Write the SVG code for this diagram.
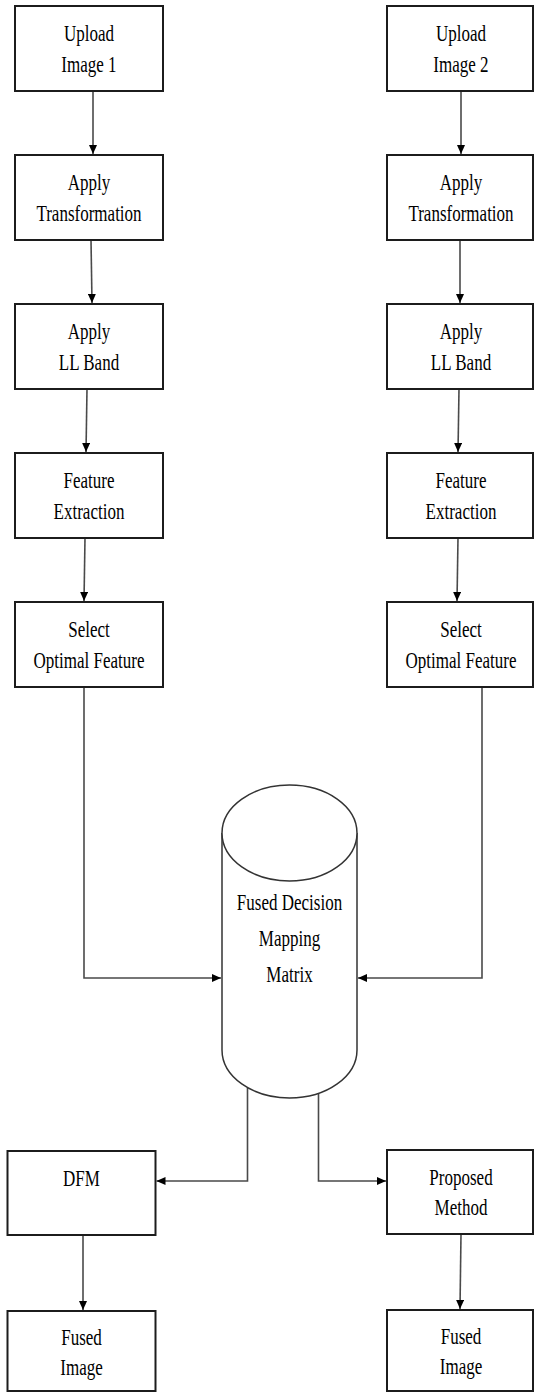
<svg xmlns="http://www.w3.org/2000/svg" width="534" height="1393" viewBox="0 0 534 1393">
  <style>
    .box { fill: #ffffff; stroke: #1c1c1c; stroke-width: 2; }
    .cyl { fill: #ffffff; stroke: #333333; stroke-width: 1.5; }
    .conn { fill: none; stroke: #4a4a4a; stroke-width: 1.6; }
    .t { font-family: "Liberation Serif", "DejaVu Serif", serif; font-size: 23px; fill: #000000; text-anchor: middle; }
  </style>
  <defs>
    <marker id="arrow" markerUnits="userSpaceOnUse" markerWidth="9" markerHeight="8" refX="9" refY="4" orient="auto">
      <path d="M0,0 L9,4 L0,8 Z" fill="#000000"/>
    </marker>
  </defs>
  <rect width="534" height="1393" fill="#ffffff"/>

  <!-- connectors -->
  <g id="connectors">
    <!-- left column -->
    <path class="conn" d="M93,91 L93,154" marker-end="url(#arrow)"/>
    <path class="conn" d="M91,240 L92,303" marker-end="url(#arrow)"/>
    <path class="conn" d="M87,389 L86,452" marker-end="url(#arrow)"/>
    <path class="conn" d="M85,538 L84,601" marker-end="url(#arrow)"/>
    <path class="conn" d="M84,687 L84,978 L221,978" marker-end="url(#arrow)"/>
    <!-- right column -->
    <path class="conn" d="M461,91 L461,154" marker-end="url(#arrow)"/>
    <path class="conn" d="M460,240 L460,303" marker-end="url(#arrow)"/>
    <path class="conn" d="M459,389 L458,452" marker-end="url(#arrow)"/>
    <path class="conn" d="M458,538 L457,601" marker-end="url(#arrow)"/>
    <path class="conn" d="M482,687 L482,978 L358,978" marker-end="url(#arrow)"/>
    <!-- outputs of the matrix -->
    <path class="conn" d="M247.5,1088 L247.5,1181 L156.5,1181" marker-end="url(#arrow)"/>
    <path class="conn" d="M318.5,1093 L318.5,1181 L386,1181" marker-end="url(#arrow)"/>
    <path class="conn" d="M83,1235 L83,1310" marker-end="url(#arrow)"/>
    <path class="conn" d="M461,1234 L460,1309" marker-end="url(#arrow)"/>
  </g>

  <!-- left branch -->
  <g id="upload1">
    <rect class="box" x="15" y="6" width="148" height="85"/>
    <text class="t" transform="translate(89,41) scale(0.74,1)">Upload</text>
    <text class="t" transform="translate(89,71.5) scale(0.74,1)">Image 1</text>
  </g>
  <g id="transform1">
    <rect class="box" x="15" y="155" width="148" height="85"/>
    <text class="t" transform="translate(89,190) scale(0.74,1)">Apply</text>
    <text class="t" transform="translate(89,220.5) scale(0.74,1)">Transformation</text>
  </g>
  <g id="llband1">
    <rect class="box" x="15" y="304" width="148" height="85"/>
    <text class="t" transform="translate(89,339) scale(0.74,1)">Apply</text>
    <text class="t" transform="translate(89,369.5) scale(0.74,1)">LL Band</text>
  </g>
  <g id="feature1">
    <rect class="box" x="15" y="453" width="148" height="85"/>
    <text class="t" transform="translate(89,488) scale(0.74,1)">Feature</text>
    <text class="t" transform="translate(89,518.5) scale(0.74,1)">Extraction</text>
  </g>
  <g id="select1">
    <rect class="box" x="15" y="602" width="148" height="85"/>
    <text class="t" transform="translate(89,637) scale(0.74,1)">Select</text>
    <text class="t" transform="translate(89,667.5) scale(0.74,1)">Optimal Feature</text>
  </g>

  <!-- right branch -->
  <g id="upload2">
    <rect class="box" x="387" y="6" width="146" height="85"/>
    <text class="t" transform="translate(461,41) scale(0.74,1)">Upload</text>
    <text class="t" transform="translate(461,71.5) scale(0.74,1)">Image 2</text>
  </g>
  <g id="transform2">
    <rect class="box" x="387" y="155" width="146" height="85"/>
    <text class="t" transform="translate(461,190) scale(0.74,1)">Apply</text>
    <text class="t" transform="translate(461,220.5) scale(0.74,1)">Transformation</text>
  </g>
  <g id="llband2">
    <rect class="box" x="387" y="304" width="146" height="85"/>
    <text class="t" transform="translate(461,339) scale(0.74,1)">Apply</text>
    <text class="t" transform="translate(461,369.5) scale(0.74,1)">LL Band</text>
  </g>
  <g id="feature2">
    <rect class="box" x="387" y="453" width="146" height="85"/>
    <text class="t" transform="translate(461,488) scale(0.74,1)">Feature</text>
    <text class="t" transform="translate(461,518.5) scale(0.74,1)">Extraction</text>
  </g>
  <g id="select2">
    <rect class="box" x="387" y="602" width="146" height="85"/>
    <text class="t" transform="translate(461,637) scale(0.74,1)">Select</text>
    <text class="t" transform="translate(461,667.5) scale(0.74,1)">Optimal Feature</text>
  </g>

  <!-- fused decision mapping matrix (cylinder) -->
  <g id="matrix">
    <path class="cyl" d="M222,833 L222,1050 A67.5,48 0 0 0 357,1050 L357,833"/>
    <ellipse class="cyl" cx="289.5" cy="833" rx="67.5" ry="48"/>
    <text class="t" transform="translate(289.5,910) scale(0.74,1)">Fused Decision</text>
    <text class="t" transform="translate(289.5,946) scale(0.74,1)">Mapping</text>
    <text class="t" transform="translate(289.5,982) scale(0.74,1)">Matrix</text>
  </g>

  <!-- outputs -->
  <g id="dfm">
    <rect class="box" x="7.5" y="1151" width="148" height="84"/>
    <text class="t" transform="translate(81.5,1185.5) scale(0.74,1)">DFM</text>
  </g>
  <g id="proposed">
    <rect class="box" x="387" y="1150" width="146" height="84"/>
    <text class="t" transform="translate(461,1184.5) scale(0.74,1)">Proposed</text>
    <text class="t" transform="translate(461,1215) scale(0.74,1)">Method</text>
  </g>
  <g id="fused1">
    <rect class="box" x="7.5" y="1311" width="148" height="80"/>
    <text class="t" transform="translate(81.5,1344.5) scale(0.74,1)">Fused</text>
    <text class="t" transform="translate(81.5,1374.5) scale(0.74,1)">Image</text>
  </g>
  <g id="fused2">
    <rect class="box" x="387" y="1310" width="146" height="81"/>
    <text class="t" transform="translate(461,1343.5) scale(0.74,1)">Fused</text>
    <text class="t" transform="translate(461,1373.5) scale(0.74,1)">Image</text>
  </g>
</svg>
